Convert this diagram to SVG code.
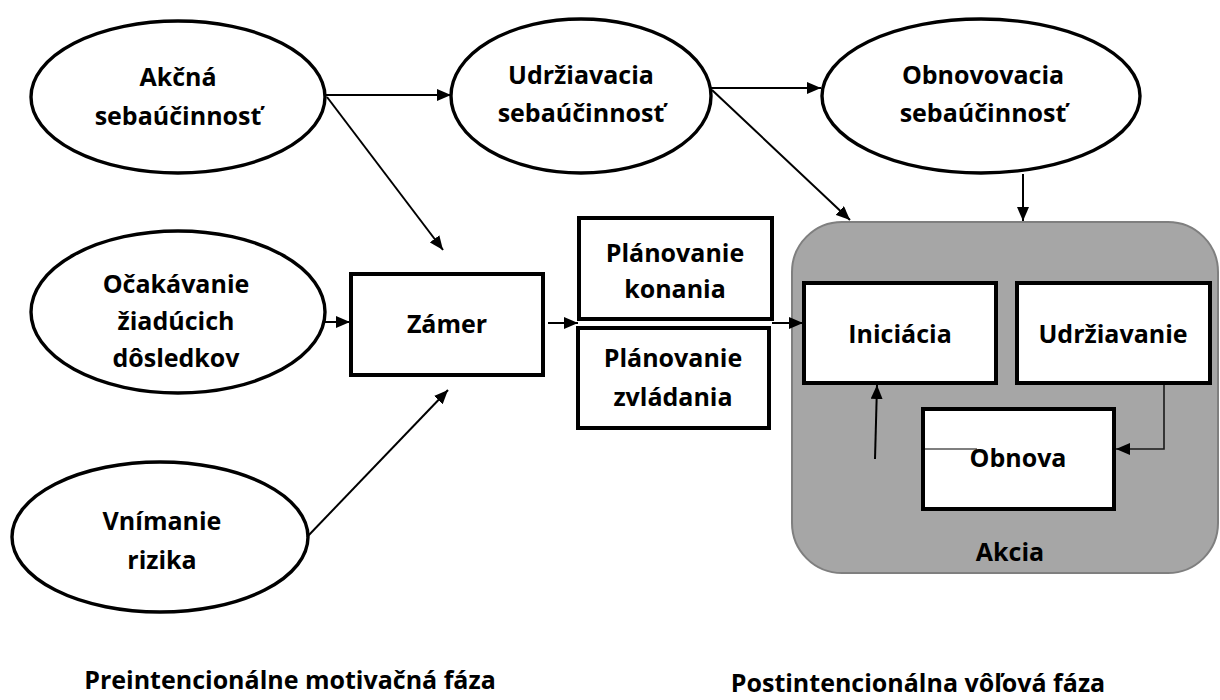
<svg xmlns="http://www.w3.org/2000/svg" width="1220" height="700" viewBox="0 0 1220 700">
  <style>
    .oval { fill: #ffffff; stroke: #000000; stroke-width: 3.4; }
    .box { fill: #ffffff; stroke: #000000; stroke-width: 4; }
    .panel { fill: #a6a6a6; stroke: #7f7f7f; stroke-width: 2; }
    .lbl { font-family: "Open Sans", "Liberation Sans", sans-serif; font-weight: 700; font-size: 25px; fill: #000000; text-anchor: middle; }
    .edge { fill: none; stroke: #000000; stroke-width: 2; }
    .edge-thin { fill: none; stroke: #1a1a1a; stroke-width: 1.6; }
    .thin { fill: none; stroke: #000000; stroke-width: 1.2; }
  </style>
  <defs>
    <marker id="head" viewBox="0 0 14 12" refX="14" refY="6" markerWidth="14" markerHeight="12" markerUnits="userSpaceOnUse" orient="auto">
      <path d="M0,0 L14,6 L0,12 Z" fill="#000000"/>
    </marker>
  </defs>

  <rect width="1220" height="700" fill="#ffffff"/>

  <!-- action phase panel -->
  <g id="akcia">
    <rect class="panel" x="792" y="222" width="426" height="351" rx="50" ry="50"/>
    <text class="lbl" x="1010" y="561">Akcia</text>
  </g>

  <g id="akcna-sebaucinnost">
    <ellipse class="oval" cx="178" cy="97" rx="147" ry="76"/>
    <text class="lbl" x="178" y="86">Akčná</text>
    <text class="lbl" x="178" y="125">sebaúčinnosť</text>
  </g>

  <g id="udrziavacia-sebaucinnost">
    <ellipse class="oval" cx="581" cy="96" rx="130" ry="77"/>
    <text class="lbl" x="581" y="84">Udržiavacia</text>
    <text class="lbl" x="581" y="122">sebaúčinnosť</text>
  </g>

  <g id="obnovovacia-sebaucinnost">
    <ellipse class="oval" cx="981" cy="96" rx="159" ry="77"/>
    <text class="lbl" x="983" y="84">Obnovovacia</text>
    <text class="lbl" x="983" y="122">sebaúčinnosť</text>
  </g>

  <g id="ocakavanie">
    <ellipse class="oval" cx="178" cy="312" rx="147" ry="81"/>
    <text class="lbl" x="176" y="293">Očakávanie</text>
    <text class="lbl" x="176" y="330">žiadúcich</text>
    <text class="lbl" x="176" y="367">dôsledkov</text>
  </g>

  <g id="vnimanie-rizika">
    <ellipse class="oval" cx="160" cy="537" rx="148" ry="75"/>
    <text class="lbl" x="162" y="530">Vnímanie</text>
    <text class="lbl" x="162" y="569">rizika</text>
  </g>

  <g id="zamer">
    <rect class="box" x="351" y="274" width="192" height="101"/>
    <text class="lbl" x="447" y="333">Zámer</text>
  </g>

  <g id="planovanie-konania">
    <rect class="box" x="579" y="218" width="193" height="101"/>
    <text class="lbl" x="675" y="262">Plánovanie</text>
    <text class="lbl" x="675" y="298">konania</text>
  </g>

  <g id="planovanie-zvladania">
    <rect class="box" x="578" y="328" width="191" height="100"/>
    <text class="lbl" x="673" y="367">Plánovanie</text>
    <text class="lbl" x="673" y="406">zvládania</text>
  </g>

  <g id="iniciacia">
    <rect class="box" x="804" y="283" width="192" height="100"/>
    <text class="lbl" x="900" y="343">Iniciácia</text>
  </g>

  <g id="udrziavanie">
    <rect class="box" x="1017" y="283" width="193" height="100"/>
    <text class="lbl" x="1113" y="343">Udržiavanie</text>
  </g>

  <g id="obnova">
    <rect class="box" x="923" y="409" width="191" height="100"/>
    <line class="thin" x1="925" y1="449" x2="977" y2="449"/>
    <text class="lbl" x="1018" y="467">Obnova</text>
  </g>

  <g id="connectors">
    <line class="edge" x1="325" y1="95" x2="451" y2="95" marker-end="url(#head)"/>
    <line class="edge" x1="327" y1="97" x2="443" y2="250" marker-end="url(#head)"/>
    <line class="edge" x1="325" y1="322" x2="350" y2="322" marker-end="url(#head)"/>
    <line class="edge" x1="307" y1="537" x2="448" y2="390" marker-end="url(#head)"/>
    <line class="edge" x1="548" y1="323" x2="578" y2="323" marker-end="url(#head)"/>
    <line class="edge" x1="772" y1="323" x2="803" y2="323" marker-end="url(#head)"/>
    <line class="edge" x1="711" y1="88" x2="821" y2="88" marker-end="url(#head)"/>
    <line class="edge" x1="712" y1="90" x2="850" y2="220" marker-end="url(#head)"/>
    <line class="edge" x1="1023" y1="174" x2="1023" y2="221" marker-end="url(#head)"/>
    <line class="edge" x1="875" y1="459" x2="877" y2="385" marker-end="url(#head)"/>
    <path class="edge-thin" d="M1164,385 V449 H1116" marker-end="url(#head)"/>
  </g>

  <g id="phase-labels">
    <text class="lbl" x="290" y="689">Preintencionálne motivačná fáza</text>
    <text class="lbl" x="918" y="692">Postintencionálna vôľová fáza</text>
  </g>
</svg>
